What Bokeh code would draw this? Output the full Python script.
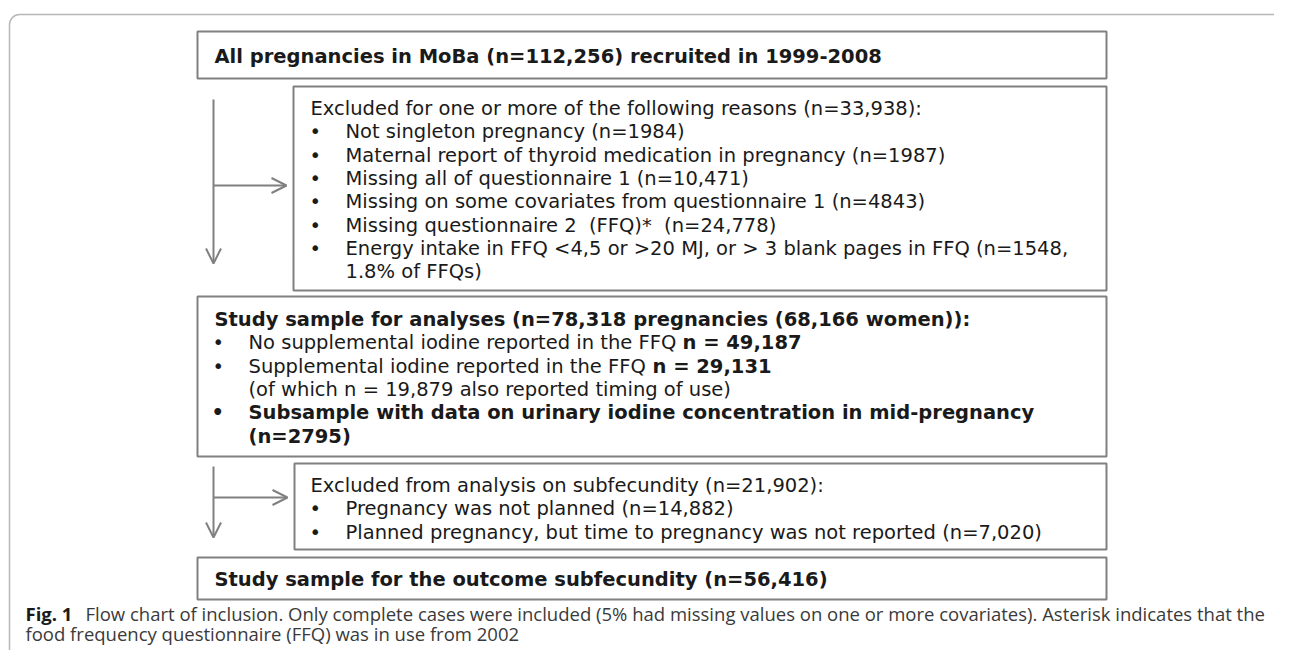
from bokeh.plotting import figure
from bokeh.models import Range1d, ColumnDataSource, Arrow, OpenHead, BoxAnnotation
from bokeh.core.properties import value
from bokeh.embed import file_html
from bokeh.resources import INLINE

# ---------------- data (texts of the flow chart) ----------------
all_title = "All pregnancies in MoBa (n=112,256) recruited in 1999-2008"
excl1_head = "Excluded for one or more of the following reasons (n=33,938):"
excl1_items = [
    "Not singleton pregnancy (n=1984)",
    "Maternal report of thyroid medication in pregnancy (n=1987)",
    "Missing all of questionnaire 1 (n=10,471)",
    "Missing on some covariates from questionnaire 1 (n=4843)",
    "Missing questionnaire 2\u00a0 (FFQ)*\u00a0 (n=24,778)",
    "Energy intake in FFQ <4,5 or >20 MJ, or > 3 blank pages in FFQ (n=1548,",
]
excl1_cont = "1.8% of FFQs)"
study_head = "Study sample for analyses (n=78,318 pregnancies (68,166 women)):"
study_items = [
    "No supplemental iodine reported in the FFQ",
    "Supplemental iodine reported in the FFQ",
]
study_counts = ["n = 49,187", "n = 29,131"]
study_cont = "(of which n = 19,879 also reported timing of use)"
study_sub = "Subsample with data on urinary iodine concentration in mid-pregnancy"
study_sub_cont = "(n=2795)"
excl2_head = "Excluded from analysis on subfecundity (n=21,902):"
excl2_items = [
    "Pregnancy was not planned (n=14,882)",
    "Planned pregnancy, but time to pregnancy was not reported (n=7,020)",
]
final_title = "Study sample for the outcome subfecundity (n=56,416)"
cap_label = "Fig. 1"
cap_line1 = ("Flow chart of inclusion. Only complete cases were included (5% had missing "
             "values on one or more covariates). Asterisk indicates that the")
cap_line2 = "food frequency questionnaire (FFQ) was in use from 2002"

# ---------------- layout ----------------
W, H = 1274, 650
p = figure(width=W, height=H, x_range=Range1d(0, W), y_range=Range1d(H, 0),
           output_backend="svg", toolbar_location=None, x_axis_type=None,
           y_axis_type=None, min_border=0, outline_line_color=None,
           background_fill_color="white", border_fill_color="white")
p.xgrid.visible = False
p.ygrid.visible = False

# outer rounded frame
p.add_layout(BoxAnnotation(left=9, right=1300, top=14, bottom=720, border_radius=10,
                           fill_alpha=0, line_color="#111111", line_width=1.5))

BOX_C = "#808080"
boxes = dict(left=[197, 293, 197, 294, 197],
             right=[1106, 1106, 1106, 1106, 1106],
             top=[31, 86, 296, 463, 557],
             bottom=[78, 290, 456, 549, 599])
p.quad(source=ColumnDataSource(boxes), left="left", right="right", top="top",
       bottom="bottom", fill_color=None, line_color=BOX_C, line_width=2)

# arrows
AC = "#808080"
for (x0, y0, x1, y1) in [(213, 99, 213, 263), (213, 185, 286, 185),
                         (213, 466, 213, 537), (213, 497, 287, 497)]:
    p.add_layout(Arrow(x_start=x0, y_start=y0, x_end=x1, y_end=y1,
                       line_color=AC, line_width=2,
                       end=OpenHead(size=15, line_color=AC, line_width=2)))

FONT = value("DejaVu Sans")
FS = "19.5px"
TXT_C = "#1a1a1a"
LH = 23.3
TY = -6  # baseline correction

reg = dict(x=[], y=[], t=[])
bold = dict(x=[], y=[], t=[])

def add(d, x, y, t):
    d["x"].append(x); d["y"].append(y + TY); d["t"].append(t)

# box 1
add(bold, 214, 62, all_title)
# box 2
y = 114
add(reg, 310, y, excl1_head)
for it in excl1_items:
    y += LH
    add(reg, 309, y, "\u2022")
    add(reg, 345, y, it)
y += LH
add(reg, 345, y, excl1_cont)
# box 3
y = 325
add(bold, 214, y, study_head)
cnt_x = [682, 652]
for it, c, cx in zip(study_items, study_counts, cnt_x):
    y += LH
    add(reg, 212, y, "\u2022")
    add(reg, 248, y, it)
    add(bold, cx, y, c)
y += LH
add(reg, 248, y, study_cont)
y += LH
add(bold, 211, y, "\u2022")
add(bold, 248, y, study_sub)
y += LH
add(bold, 248, y, study_sub_cont)
# box 4
y = 491
add(reg, 310, y, excl2_head)
for it in excl2_items:
    y += LH
    add(reg, 309, y, "\u2022")
    add(reg, 345, y, it)
# box 5
add(bold, 214, 585, final_title)

p.text(x="x", y="y", text="t", source=ColumnDataSource(reg), text_font=FONT,
       text_font_size=FS, text_color=TXT_C, text_baseline="alphabetic",
       text_align="left")
p.text(x="x", y="y", text="t", source=ColumnDataSource(bold), text_font=FONT,
       text_font_size=FS, text_font_style="bold", text_color=TXT_C,
       text_baseline="alphabetic", text_align="left")

# caption
CF = value("Open Sans")
p.text(x=[25], y=[613], text=[cap_label], text_font=CF, text_font_size="18.5px",
       text_font_style="bold", text_color="#1a1a1a", text_baseline="alphabetic")
p.text(x=[85, 25], y=[613, 633], text=[cap_line1, cap_line2], text_font=CF,
       text_font_size="18.5px", text_color="#3a3a3a", text_baseline="alphabetic")

open("out.html", "w").write(file_html(p, INLINE))
